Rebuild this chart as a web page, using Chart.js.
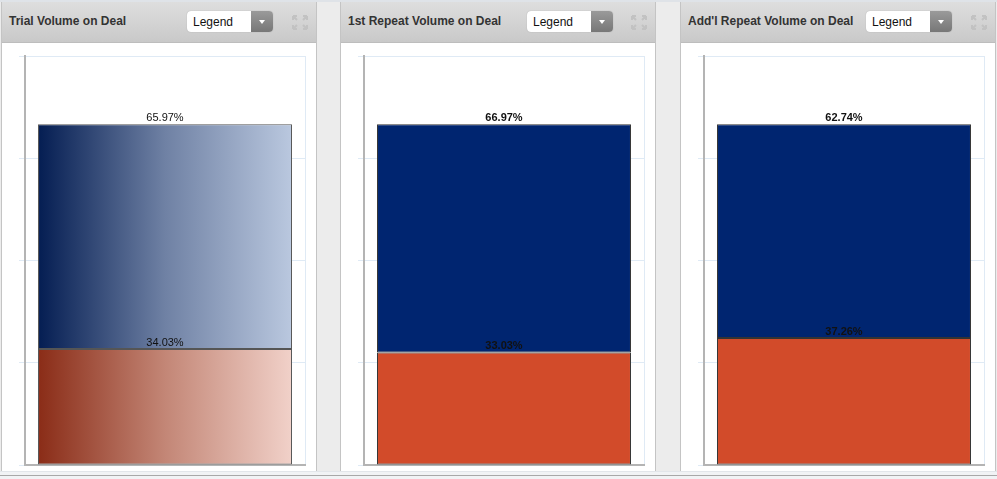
<!DOCTYPE html>
<html>
<head>
<meta charset="utf-8">
<script src="https://cdn.jsdelivr.net/npm/chart.js@4.4.0/dist/chart.umd.min.js"></script>
<style>
  html, body { margin: 0; padding: 0; }
  body {
    width: 997px; height: 479px; overflow: hidden; position: relative;
    background: #ececec; font-family: Arial, "Liberation Sans", sans-serif;
  }
  .topstrip { position: absolute; left: 0; top: 0; width: 997px; height: 2px; background: #dfe3e8; }
  .bottomstrip { position: absolute; left: 0; top: 471px; width: 997px; height: 8px; background: #f1f3f5; border-top: 1px solid #e2e6ea; }
  .bottomline { position: absolute; left: 0; top: 475px; width: 997px; height: 1px; background: #a8a8a8; }
  .panel {
    position: absolute; top: 2px; width: 314px; height: 469px;
    background: #fff; border-left: 1px solid #c4c4c4; border-right: 1px solid #c4c4c4;
  }
  .head {
    position: absolute; left: 0; top: 0; width: 314px; height: 40px;
    background: linear-gradient(#dedede, #c9c9c9);
    border-bottom: 1px solid #bdbdbd;
  }
  .title {
    position: absolute; left: 7px; top: 12px; font-size: 12px; font-weight: bold; color: #333;
    white-space: nowrap;
  }
  .drop {
    position: absolute; top: 9px; width: 86px; height: 21px; border-radius: 4px;
    background: #fff; overflow: hidden; box-shadow: 0 0 1px #999;
  }
  .drop span { position: absolute; left: 6px; top: 4px; font-size: 12px; color: #111; }
  .drop i {
    position: absolute; right: 0; top: 0; width: 22px; height: 21px;
    background: linear-gradient(#9a9a9a, #777);
  }
  .drop i:after {
    content: ""; position: absolute; left: 8px; top: 9px;
    border-left: 3px solid transparent; border-right: 3px solid transparent; border-top: 4px solid #fff;
  }
  .expand { position: absolute; top: 12px; width: 18px; height: 17px; }
  canvas { position: absolute; left: 0; top: 40px; }
</style>
</head>
<body>
<div class="topstrip"></div>
<div class="bottomstrip"></div>
<div class="bottomline"></div>
<div id="panels"></div>
<script>
// chart data
const panelTitles = ["Trial Volume on Deal", "1st Repeat Volume on Deal", "Add'l Repeat Volume on Deal"];
const categories = [""];
const topShare = [65.97, 66.97, 62.74];      // upper segment (navy)
const bottomShare = [34.03, 33.03, 37.26];   // lower segment (orange)
const yMax = 120;
const yStep = 30;

const panelLeft = [1, 340, 680];
const dropLeft = [185, 186, 185];
const BAR_PCT = 0.907;

// gradient helper for the first panel
function hGradient(colors) {
  return (ctx) => {
    const chart = ctx.chart;
    const area = chart.chartArea;
    if (!area) return colors[0];
    const w = area.right - area.left;
    const x0 = area.left + w * (1 - BAR_PCT) / 2;
    const g = chart.ctx.createLinearGradient(x0, 0, x0 + w * BAR_PCT, 0);
    g.addColorStop(0, colors[0]);
    g.addColorStop(0.5, colors[1]);
    g.addColorStop(1, colors[2]);
    return g;
  };
}

// draws the percentage over each segment
const segmentLabels = {
  id: "segmentLabels",
  afterDatasetsDraw(chart, args, opts) {
    const c = chart.ctx;
    c.save();
    c.font = (opts.bold ? "bold " : "") + "11px Arial, 'Liberation Sans', sans-serif";
    c.fillStyle = "#111";
    c.textAlign = "center";
    c.textBaseline = "bottom";
    chart.data.datasets.forEach((ds, i) => {
      chart.getDatasetMeta(i).data.forEach((bar, j) => {
        c.fillText(ds.data[j].toFixed(2) + "%", bar.x, bar.y - 1);
      });
    });
    c.restore();
  }
};

const expandSvg = `<svg class="expand" viewBox="0 0 18 17"><g fill="none" stroke="#c2c2c2" stroke-width="2">
  <path d="M2 2h4M2 2v4M2 2l4 4M16 2h-4M16 2v4M16 2l-4 4M2 15h4M2 15v-4M2 15l4-4M16 15h-4M16 15v-4M16 15l-4-4"/></g></svg>`;

panelTitles.forEach((title, p) => {
  const $panel = document.createElement("div");
  $panel.className = "panel";
  $panel.style.left = panelLeft[p] + "px";
  $panel.innerHTML = `
    <div class="head">
      <div class="title">${title}</div>
      <div class="drop" style="left:${dropLeft[p]}px"><span>Legend</span><i></i></div>
      <div style="position:absolute;left:289px;top:0">${expandSvg}</div>
    </div>
    <canvas id="chart-${p}" width="314" height="429"></canvas>`;
  document.getElementById("panels").appendChild($panel);

  const gradientPanel = p === 0;
  new Chart(document.getElementById(`chart-${p}`), {
    type: "bar",
    data: {
      labels: categories,
      datasets: [
        {
          data: [bottomShare[p]],
          backgroundColor: gradientPanel ? hGradient(["#8a2c17", "#c38676", "#f1d1c9"]) : "#d24b2a",
          borderColor: gradientPanel ? "#555" : "#333",
          borderWidth: 1,
          borderSkipped: false,
        },
        {
          data: [topShare[p]],
          backgroundColor: gradientPanel ? hGradient(["#041d52", "#6f81a4", "#bac8df"]) : "#002570",
          borderColor: gradientPanel ? "#555" : "#333",
          borderWidth: 1,
          borderSkipped: false,
        },
      ],
    },
    options: {
      responsive: false,
      animation: false,
      layout: { padding: { top: 14, bottom: 6, left: 17, right: 11 } },
      datasets: { bar: { barPercentage: BAR_PCT, categoryPercentage: 1 } },
      plugins: {
        legend: { display: false },
        tooltip: { enabled: false },
        segmentLabels: { bold: !gradientPanel },
      },
      scales: {
        x: {
          stacked: true,
          ticks: { display: false },
          grid: { color: "#dfeaf5", drawTicks: false, offset: true },
          border: { color: "#b4b4b4", width: 2 },
        },
        y: {
          stacked: true,
          min: 0,
          max: yMax,
          ticks: { display: false, stepSize: yStep },
          grid: { color: "#dfeaf5", tickLength: 6 },
          border: { color: "#b4b4b4", width: 2 },
        },
      },
    },
    plugins: [segmentLabels],
  });
});
</script>
</body>
</html>
